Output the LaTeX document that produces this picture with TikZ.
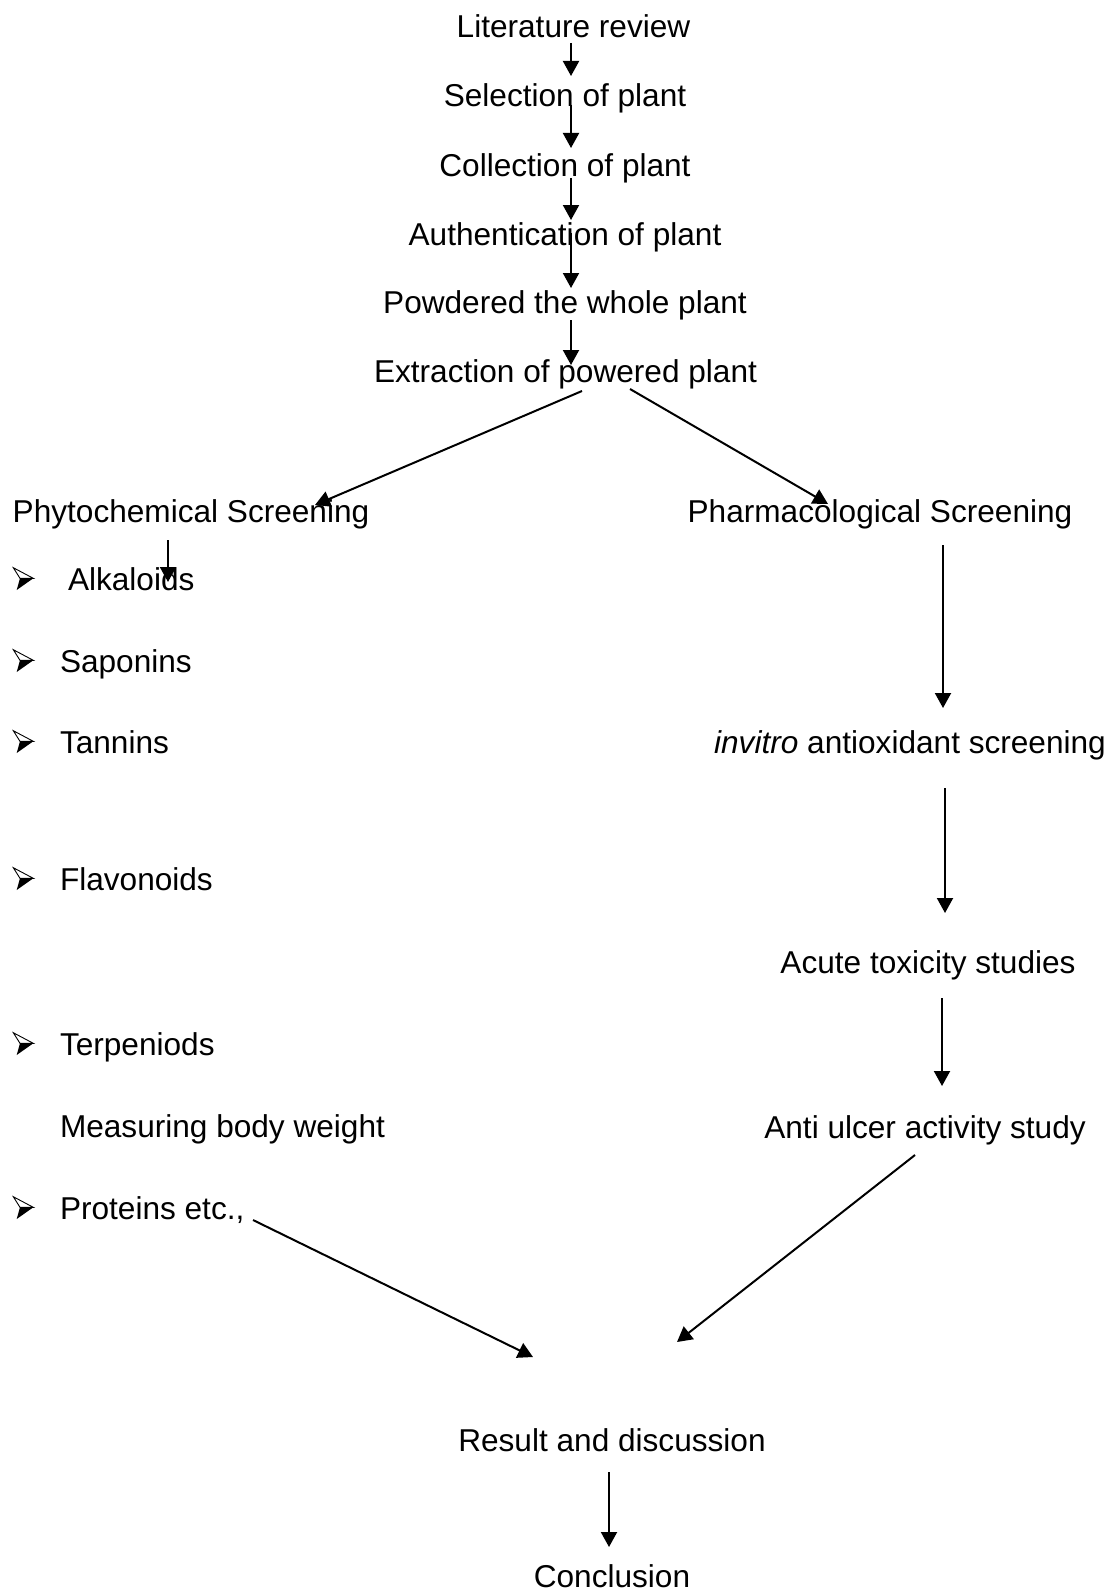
\documentclass[tikz,border=0pt]{standalone}
\usepackage{fontspec}
\setmainfont{Liberation Sans}
\usetikzlibrary{arrows.meta}
\tikzset{
  txt/.style={inner sep=0pt, outer sep=0pt, font=\fontsize{31.6}{38}\selectfont},
  itemtxt/.style={txt, anchor=base west},
  ctr/.style={txt, anchor=base},
  arr/.style={line width=2pt, -{Triangle[length=15pt,width=16pt]}},
  bullet/.pic={
    \draw[line width=0.9pt, fill=white, line join=miter] (13.3,-22.3) -- (33.3,-11.7) -- (20,-11.7) -- cycle;
    \fill (20,-11.7) -- (33.3,-11.7) -- (16.7,0) -- cycle;
  },
}
\begin{document}
\begin{tikzpicture}[x=1pt,y=-1pt]
\useasboundingbox (0,0) rectangle (1111,1592);
% main column
\node[ctr] (lit)   at (573.5,38)  {Literature review};
\node[ctr] (sel)   at (565,107)   {Selection of plant};
\node[ctr] (col)   at (565,176)   {Collection of plant};
\node[ctr] (auth)  at (565,245)   {Authentication of plant};
\node[ctr] (powd)  at (565,313)   {Powdered the whole plant};
\node[ctr] (extr)  at (565.5,382) {Extraction of powered plant};
% branches
\node[ctr] (phyto) at (191,522)   {Phytochemical Screening};
\node[ctr] (pharm) at (880,522)   {Pharmacological Screening};
% left list
\pic at (0,590)  {bullet};
\node[itemtxt] (alk)  at (68,590)   {Alkaloids};
\pic at (0,672)  {bullet};
\node[itemtxt] (sap)  at (60,672)   {Saponins};
\pic at (0,753)  {bullet};
\node[itemtxt] (tan)  at (60,753)   {Tannins};
\pic at (0,890)  {bullet};
\node[itemtxt] (flav) at (60,890)   {Flavonoids};
\pic at (0,1055) {bullet};
\node[itemtxt] (terp) at (60,1055)  {Terpeniods};
\node[itemtxt] (meas) at (60,1137)  {Measuring body weight};
\pic at (0,1219) {bullet};
\node[itemtxt] (prot) at (60,1219)  {Proteins etc.,};
% right column
\node[ctr] (invit) at (910,753)  {\textit{invitro} antioxidant screening};
\node[ctr] (acute) at (928,973)  {Acute toxicity studies};
\node[ctr] (anti)  at (925,1138) {Anti ulcer activity study};
% bottom
\node[ctr] (res)   at (612,1451) {Result and discussion};
\node[ctr] (concl) at (612,1587) {Conclusion};
% connectors
\draw[arr] ([shift={(-2.5,5)}]lit.base) -- ([shift={(-2.5,-31)}]sel.base -| lit.base);
\draw[arr] ([shift={(6,-2)}]sel.base) -- ([shift={(6,-28)}]col.base);
\draw[arr] ([shift={(6,2)}]col.base) -- ([shift={(6,-25)}]auth.base);
\draw[arr] ([shift={(6,-12)}]auth.base) -- ([shift={(6,-25)}]powd.base);
\draw[arr] ([shift={(6,7)}]powd.base) -- ([shift={(5.5,-17)}]extr.base);
\draw[arr] ([shift={(16.5,9)}]extr.base) -- ([shift={(124,-17)}]phyto.base);
\draw[arr] ([shift={(64.5,7)}]extr.base) -- ([shift={(-52,-18)}]pharm.base);
\draw[arr] ([shift={(-23,18)}]phyto.base) -- ([shift={(100,-8)}]alk.base west);
\draw[arr] ([shift={(63,23)}]pharm.base) -- ([shift={(33,-45)}]invit.base);
\draw[arr] ([shift={(35,35)}]invit.base) -- ([shift={(17,-60)}]acute.base);
\draw[arr] ([shift={(14,25)}]acute.base) -- ([shift={(17,-52)}]anti.base);
\draw[arr] ([shift={(-10,17)}]anti.base) -- ([shift={(65,-109)}]res.base);
\draw[arr] ([shift={(193,1)}]prot.base west) -- ([shift={(-79,-94)}]res.base);
\draw[arr] ([shift={(-3,21)}]res.base) -- ([shift={(-3,-40)}]concl.base);
\end{tikzpicture}
\end{document}
